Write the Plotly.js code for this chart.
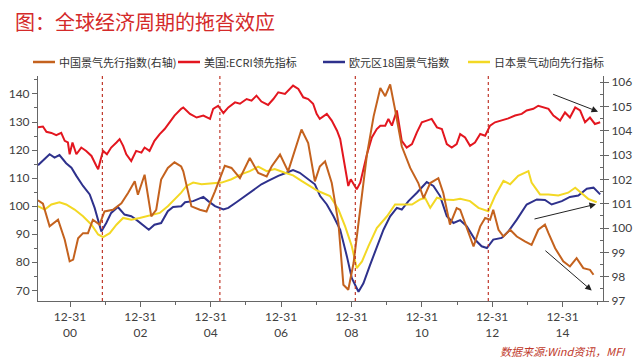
<!DOCTYPE html>
<html><head><meta charset="utf-8">
<script src="https://cdn.plot.ly/plotly-3.0.1.min.js"></script>
<style>html,body{margin:0;padding:0;background:#fff}#chart{width:640px;height:361px}</style>
</head><body><div id="chart"></div>
<script>
// ---- Data (decimal years) ----
const chinaDates = [2000.09,2000.23,2000.42,2000.66,2000.85,2000.99,2001.09,2001.23,2001.37,2001.51,2001.65,2001.84,2001.98,2002.22,2002.46,2002.65,2002.84,2002.93,2003.12,2003.31,2003.45,2003.59,2003.78,2003.97,2004.16,2004.22,2004.45,2004.69,2004.88,2005.12,2005.40,2005.59,2005.83,2006.11,2006.35,2006.59,2006.73,2006.97,2007.20,2007.34,2007.58,2007.77,2007.96,2008.10,2008.25,2008.44,2008.63,2008.77,2008.91,2009.06,2009.25,2009.44,2009.63,2009.82,2009.96,2010.10,2010.24,2010.43,2010.67,2010.90,2011.05,2011.24,2011.47,2011.61,2011.80,2011.99,2012.09,2012.28,2012.47,2012.66,2012.80,2012.94,2013.03,2013.18,2013.32,2013.51,2013.70,2013.93,2014.12,2014.31,2014.50,2014.60,2014.79,2015.02,2015.21,2015.40,2015.59,2015.78,2015.88];
const chinaValues = [101.14,101.0,100.07,100.34,99.52,98.63,98.70,99.58,99.79,99.79,100.34,100.14,100.68,100.75,101.02,101.44,101.92,101.37,102.19,100.48,100.75,101.99,102.47,102.70,102.53,102.33,100.89,100.75,100.68,101.51,102.56,102.47,102.05,102.88,102.26,102.12,102.53,103.02,102.33,102.95,104.05,103.49,101.92,102.53,102.74,101.85,100.20,97.67,97.46,98.56,100.75,103.02,104.59,105.76,105.42,105.90,104.87,103.36,102.47,101.85,101.23,101.85,102.05,101.44,100.14,100.82,100.75,100.0,99.24,100.07,100.41,100.34,100.75,99.93,99.65,99.93,99.65,99.45,99.31,99.93,100.14,99.79,99.17,98.63,98.42,98.76,98.35,98.28,98.08];

const usDates = [2000.09,2000.23,2000.33,2000.47,2000.61,2000.75,2000.85,2000.94,2000.99,2001.07,2001.18,2001.32,2001.46,2001.61,2001.75,2001.80,2001.86,2001.94,2002.05,2002.17,2002.32,2002.41,2002.51,2002.60,2002.74,2002.88,2003.03,2003.12,2003.26,2003.40,2003.55,2003.69,2003.83,2003.97,2004.16,2004.22,2004.41,2004.60,2004.79,2004.98,2005.07,2005.21,2005.36,2005.50,2005.69,2005.83,2006.02,2006.16,2006.30,2006.44,2006.63,2006.78,2006.92,2007.11,2007.34,2007.49,2007.63,2007.77,2007.91,2008.01,2008.10,2008.30,2008.44,2008.59,2008.68,2008.77,2008.85,2008.91,2008.98,2009.06,2009.15,2009.25,2009.34,2009.44,2009.58,2009.72,2009.82,2009.96,2010.05,2010.15,2010.29,2010.43,2010.57,2010.72,2010.86,2011.00,2011.14,2011.28,2011.43,2011.57,2011.71,2011.85,2011.99,2012.09,2012.23,2012.37,2012.51,2012.66,2012.80,2012.94,2013.08,2013.27,2013.46,2013.65,2013.84,2013.98,2014.17,2014.31,2014.45,2014.60,2014.74,2014.93,2015.07,2015.21,2015.36,2015.50,2015.64,2015.78,2015.92,2016.07];
const usValues = [128.1,128.4,126.5,126.1,125.3,126.1,123.3,122.7,118.5,122.7,118.5,120.9,119.7,117.9,114.3,113.2,116.1,119.7,118.5,120.9,122.7,123.9,121.5,118.5,116.1,119.7,119.1,120.9,119.7,123.3,125.7,127.5,129.9,132.3,134.7,135.2,132.9,131.6,132.3,131.1,134.7,135.8,133.2,135.2,137.0,136.5,138.2,137.6,139.4,137.3,136.1,138.2,140.6,140.0,143.0,141.8,138.8,138.2,136.5,132.9,131.1,132.9,130.5,126.9,123.9,117.3,110.8,107.2,109.6,107.8,106.0,108.4,113.7,118.5,124.5,127.5,128.7,128.7,131.1,128.7,134.1,123.3,120.9,122.1,126.3,129.9,130.5,131.1,128.1,127.5,122.1,120.9,122.1,125.7,124.5,121.5,122.7,125.7,125.1,128.7,129.9,130.5,131.3,132.3,132.9,134.1,134.7,135.8,135.2,134.7,132.3,130.5,133.4,131.6,135.2,134.1,129.9,131.6,129.3,129.9];

const euroDates = [2000.09,2000.42,2000.56,2000.70,2000.89,2001.04,2001.18,2001.37,2001.56,2001.70,2001.89,2002.03,2002.17,2002.36,2002.55,2002.74,2002.88,2003.07,2003.24,2003.40,2003.59,2003.78,2003.93,2004.16,2004.27,2004.50,2004.64,2004.79,2004.93,2005.12,2005.36,2005.50,2005.73,2005.97,2006.26,2006.44,2006.63,2006.92,2007.15,2007.34,2007.53,2007.72,2007.96,2008.11,2008.30,2008.49,2008.68,2008.87,2009.01,2009.20,2009.34,2009.53,2009.72,2009.91,2010.10,2010.29,2010.43,2010.62,2010.86,2011.14,2011.33,2011.52,2011.71,2011.90,2012.09,2012.28,2012.51,2012.70,2012.85,2013.03,2013.27,2013.46,2013.70,2013.98,2014.27,2014.50,2014.69,2014.98,2015.21,2015.45,2015.69,2015.88,2016.07];
const euroValues = [114.6,118.5,117.3,118.2,115.3,113.7,110.8,107.2,104.2,99.4,91.0,94.0,97.6,99.7,97.0,96.4,95.2,93.4,91.6,93.4,94.0,98.2,99.7,100.0,101.4,101.8,102.6,103.3,101.8,100.0,98.8,99.4,101.4,103.6,106.0,107.8,109.0,110.8,111.9,112.9,111.9,110.1,107.8,103.6,100.6,96.4,91.6,82.1,74.3,69.5,72.5,79.1,85.7,91.6,96.4,99.4,98.8,101.8,104.8,108.6,107.2,103.6,96.4,94.0,95.0,92.8,88.1,85.7,85.1,88.1,88.7,91.0,95.2,100.6,102.4,102.2,100.6,101.8,103.3,103.8,106.2,106.6,104.2];

const japanDates = [2000.09,2000.28,2000.47,2000.70,2000.89,2001.13,2001.37,2001.61,2001.80,2001.94,2002.13,2002.32,2002.51,2002.74,2002.98,2003.31,2003.55,2003.78,2003.97,2004.16,2004.31,2004.50,2004.74,2005.02,2005.31,2005.59,2005.88,2006.11,2006.35,2006.59,2006.82,2007.11,2007.34,2007.58,2007.82,2008.05,2008.39,2008.63,2008.82,2009.01,2009.15,2009.30,2009.48,2009.72,2010.01,2010.24,2010.48,2010.72,2010.95,2011.09,2011.24,2011.43,2011.61,2011.90,2012.09,2012.37,2012.61,2012.89,2013.08,2013.32,2013.51,2013.74,2014.03,2014.12,2014.36,2014.60,2014.88,2015.16,2015.36,2015.55,2015.73,2015.97];
const japanValues = [100.0,98.8,100.6,101.4,100.6,98.8,96.4,93.4,89.9,89.0,90.4,93.4,95.8,95.2,95.8,96.7,97.6,100.0,102.4,104.8,107.2,108.4,107.8,108.1,108.4,109.6,111.4,112.5,114.1,112.5,113.2,111.9,111.0,109.0,107.2,105.4,103.6,98.8,92.8,85.7,77.9,80.3,85.7,92.2,96.4,100.6,100.6,100.6,102.4,103.0,99.4,103.0,102.4,102.2,102.6,101.8,99.4,98.2,103.6,109.0,107.8,110.8,112.5,108.4,104.2,104.2,103.8,104.8,106.6,104.6,102.6,101.4];

const seriesNames = ['中国景气先行指数(右轴)','美国:ECRI领先指标','欧元区18国景气指数','日本景气动向先行指标'];
const tickYears = [2001,2003,2005,2007,2009,2011,2013,2015];
const tickLabels = ['12-31<br>00','12-31<br>02','12-31<br>04','12-31<br>06','12-31<br>08','12-31<br>10','12-31<br>12','12-31<br>14'];
const minorYears = [2002,2004,2006,2008,2010,2012,2014,2016];
const markerDates = [2001.92,2005.26,2009.11,2012.89];
// arrows: [tailX, tailY, headX, headY] on the left axis
const arrows = [[2014.69,140.1,2016.01,133.7],[2014.16,95.3,2015.95,100.7],[2014.47,84.6,2015.83,69.9]];

const colors = ['#c4621e','#e3161f','#2e318c','#f3d824'];
const traces = [
  {x: chinaDates, y: chinaValues, name: seriesNames[0], yaxis: 'y2'},
  {x: usDates, y: usValues, name: seriesNames[1]},
  {x: euroDates, y: euroValues, name: seriesNames[2]},
  {x: japanDates, y: japanValues, name: seriesNames[3]}
].map((t, i) => Object.assign(t, {type: 'scatter', mode: 'lines', line: {color: colors[i], width: 2}, hoverinfo: 'skip', showlegend: false}));

// plot-area geometry (pixels) used to place the legend in paper coordinates
const W = 640, H = 361, M = {l: 38, r: 37, t: 76, b: 60};
const pw = W - M.l - M.r, ph = H - M.t - M.b;
const px = x => (x - M.l) / pw;
const py = y => (H - M.b - y) / ph;

const axisCommon = {showgrid: false, zeroline: false, showline: true, linecolor: '#666', linewidth: 1,
  ticks: 'outside', ticklen: 5, tickcolor: '#666', tickfont: {family: 'Lato, Liberation Sans, sans-serif', size: 12, color: '#404040'}};

const shapes = markerDates.map(d => ({type: 'line', xref: 'x', yref: 'paper', x0: d, x1: d, y0: 0, y1: 1,
  line: {color: '#c0392b', width: 1.2, dash: 'dot'}}));

const annotations = arrows.map(a => ({xref: 'x', yref: 'y', axref: 'x', ayref: 'y', x: a[2], y: a[3], ax: a[0], ay: a[1],
  text: '', showarrow: true, arrowhead: 2, arrowsize: 1.3, arrowwidth: 1, arrowcolor: '#222'}));
annotations.push({xref: 'paper', yref: 'paper', x: px(628), y: py(351), xanchor: 'right', yanchor: 'middle',
  text: '<i>数据来源:Wind资讯，MFI</i>', showarrow: false, font: {family: 'Noto Sans CJK SC', size: 11, color: '#c0392b'}});

// custom one-row legend
const legendLeft = [33, 178, 323, 468];
seriesNames.forEach((name, i) => {
  const x0 = legendLeft[i];
  shapes.push({type: 'line', xref: 'paper', yref: 'paper', x0: px(x0), x1: px(x0 + 22), y0: py(62), y1: py(62),
    line: {color: colors[i], width: 2.5}});
  annotations.push({xref: 'paper', yref: 'paper', x: px(x0 + 24), y: py(62), xanchor: 'left', yanchor: 'middle',
    text: name, showarrow: false, font: {family: 'Noto Sans CJK SC', size: 11, color: '#333'}});
});

const layout = {
  width: W, height: H,
  margin: {l: M.l, r: M.r, t: M.t, b: M.b, pad: 0},
  paper_bgcolor: '#fff', plot_bgcolor: '#fff',
  title: {text: '图：全球经济周期的拖沓效应', font: {family: 'Noto Sans CJK SC', size: 20, color: '#d42a2a'},
    xref: 'container', yref: 'container', x: 15/640, xanchor: 'left', y: 1 - 23/361, yanchor: 'middle'},
  showlegend: false,
  xaxis: Object.assign({}, axisCommon, {type: 'linear', range: [2000.09, 2016.15], tickvals: tickYears, ticktext: tickLabels,
    minor: {tickvals: minorYears, ticks: 'outside', ticklen: 3, tickcolor: '#666'}}),
  yaxis: Object.assign({}, axisCommon, {range: [66.2, 146.4], tick0: 70, dtick: 10,
    minor: {dtick: 5, ticks: 'outside', ticklen: 3, tickcolor: '#666'}}),
  yaxis2: Object.assign({}, axisCommon, {overlaying: 'y', side: 'right', range: [97, 106.25], tick0: 97, dtick: 1,
    minor: {dtick: 0.5, ticks: 'inside', ticklen: 3, tickcolor: '#666'}}),
  shapes: shapes,
  annotations: annotations
};

Plotly.newPlot('chart', traces, layout, {staticPlot: true, displayModeBar: false});
</script>
</body></html>
